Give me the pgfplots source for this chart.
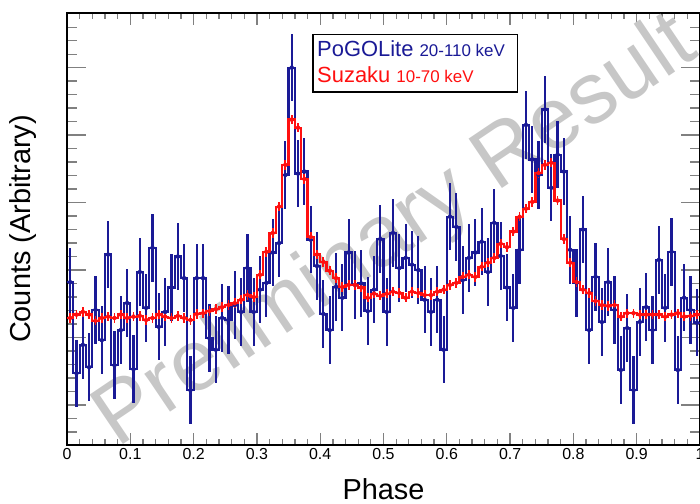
\documentclass[border=0pt]{standalone}
\usepackage{fontspec}
\setmainfont{Liberation Sans}
\usepackage{pgfplots}
\pgfplotsset{compat=1.18}
\usepackage{pgfplotstable}
\definecolor{pogo}{HTML}{1A1A96}
\definecolor{suz}{HTML}{FF1010}

% x = left edge of 0.01 phase bin, b = PoGOLite, r = Suzaku (arbitrary units)
\pgfplotstableread{
x b r
0.00 1.82 1.29
0.01 0.47 1.34
0.02 0.89 1.38
0.03 0.56 1.34
0.04 1.41 1.25
0.05 0.96 1.29
0.06 2.23 1.31
0.07 0.59 1.29
0.08 1.11 1.34
0.09 1.51 1.29
0.10 0.53 1.31
0.11 1.97 1.32
0.12 1.44 1.26
0.13 2.33 1.29
0.14 1.16 1.34
0.15 1.38 1.31
0.16 1.74 1.29
0.17 2.20 1.32
0.18 1.88 1.29
0.19 0.22 1.26
0.20 1.88 1.35
0.21 1.88 1.36
0.22 0.99 1.39
0.23 0.82 1.42
0.24 1.29 1.45
0.25 1.26 1.48
0.26 1.48 1.51
0.27 1.38 1.56
0.28 2.03 1.63
0.29 1.38 1.60
0.30 1.71 1.93
0.31 1.81 2.27
0.32 2.26 2.55
0.33 2.40 2.94
0.34 3.41 3.56
0.35 5.00 4.23
0.36 3.43 4.11
0.37 3.46 3.35
0.38 2.45 2.49
0.39 2.06 2.23
0.40 1.35 2.12
0.41 1.11 1.99
0.42 1.75 1.88
0.43 1.59 1.75
0.44 2.26 1.78
0.45 1.78 1.78
0.46 1.80 1.74
0.47 1.39 1.59
0.48 1.71 1.65
0.49 2.46 1.62
0.50 1.38 1.65
0.51 2.55 1.68
0.52 2.03 1.66
0.53 2.18 1.59
0.54 2.08 1.68
0.55 2.00 1.66
0.56 1.56 1.63
0.57 1.38 1.63
0.58 1.56 1.68
0.59 0.82 1.71
0.60 2.79 1.78
0.61 2.64 1.81
0.62 1.85 1.90
0.63 2.18 1.93
0.64 2.26 1.90
0.65 2.42 2.05
0.66 1.97 2.11
0.67 2.70 2.18
0.68 2.21 2.39
0.69 1.74 2.34
0.70 1.44 2.57
0.71 2.30 2.79
0.72 4.15 2.91
0.73 3.64 3.01
0.74 3.41 3.44
0.75 4.38 3.56
0.76 3.22 3.59
0.77 3.71 3.03
0.78 3.46 2.46
0.79 2.30 2.11
0.80 1.81 1.82
0.81 2.60 1.71
0.82 1.11 1.66
0.83 1.90 1.54
0.84 1.23 1.48
0.85 1.82 1.47
0.86 1.41 1.48
0.87 0.52 1.31
0.88 1.14 1.36
0.89 0.22 1.36
0.90 1.23 1.34
0.91 1.45 1.34
0.92 1.11 1.34
0.93 2.15 1.34
0.94 1.44 1.31
0.95 2.27 1.34
0.96 0.52 1.36
0.97 1.59 1.31
0.98 1.41 1.32
0.99 1.22 1.34
1.00 1.22 1.34
}\pulse

\begin{document}
\begin{tikzpicture}
\begin{axis}[name=ax, scale only axis, width=633bp, height=432bp,
  xmin=0, xmax=1, ymin=-0.593, ymax=5.81,
  xtick={0,0.1,0.2,0.3,0.4,0.5,0.6,0.7,0.8,0.9,1},
  xticklabels={0,0.1,0.2,0.3,0.4,0.5,0.6,0.7,0.8,0.9,1},
  minor x tick num=4,
  ytick={0,1,2,3,4,5}, yticklabels={},
  minor ytick={-0.4,-0.2,0.2,0.4,0.6,0.8,1.2,1.4,1.6,1.8,2.2,2.4,2.6,2.8,3.2,3.4,3.6,3.8,4.2,4.4,4.6,4.8,5.2,5.4,5.6,5.8},
  tick align=inside, tick pos=both,
  axis line style={line width=1.5bp},
  x tick style={line width=1.3bp, /pgfplots/major tick length=12bp, /pgfplots/minor tick length=6bp},
  y tick style={line width=1.3bp, /pgfplots/major tick length=19bp, /pgfplots/minor tick length=10bp},
  tick label style={font=\fontsize{16}{18}\selectfont},
  xlabel={Phase}, ylabel={Counts (Arbitrary)},
  label style={font=\fontsize{29}{32}\selectfont},
  xlabel style={at={(axis description cs:0.5,-0.127)}, anchor=base},
  ylabel style={at={(axis description cs:-0.043,0.5)}, anchor=south},
]
\node[rotate=34, text=black!22, font=\fontsize{87}{90}\selectfont] at (axis cs:0.52,2.55) {Preliminary Result};

\addplot[const plot mark left, pogo, line width=2.2bp] table[x=x, y=b] {\pulse};
\addplot[only marks, mark=none, pogo, error bars/.cd, y dir=both, y fixed=0.5, error mark=none,
  error bar style={line width=2.2bp, pogo}] table[x expr=\thisrow{x}+0.005, y=b] {\pulse};

\addplot[const plot mark left, suz, line width=2.2bp] table[x=x, y=r] {\pulse};
\addplot[only marks, mark=none, suz, error bars/.cd, y dir=both, y fixed=0.07, error mark=none,
  error bar style={line width=1.8bp, suz}] table[x expr=\thisrow{x}+0.005, y=r] {\pulse};

\draw[line width=1.5bp, fill=white] (axis cs:0.389,5.49) rectangle (axis cs:0.712,4.64);
\node[anchor=base west, inner sep=0pt, text=pogo] at (axis cs:0.395,5.163)
  {\fontsize{22}{24}\selectfont PoGOLite \fontsize{17}{20}\selectfont 20-110 keV};
\node[anchor=base west, inner sep=0pt, text=suz] at (axis cs:0.395,4.777)
  {\fontsize{22}{24}\selectfont Suzaku \fontsize{17}{20}\selectfont 10-70 keV};
\end{axis}
\pgfresetboundingbox
\path[use as bounding box] ([shift={(-67bp,-59bp)}]ax.south west) rectangle ([shift={(0bp,13bp)}]ax.north east);
\end{tikzpicture}
\end{document}
